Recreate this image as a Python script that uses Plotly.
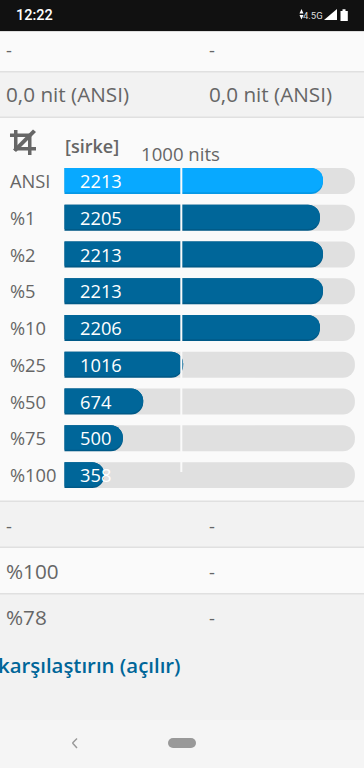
import plotly.graph_objects as go

W, H = 364, 768

categories = ["ANSI", "%1", "%2", "%5", "%10", "%25", "%50", "%75", "%100"]
values = [2213, 2205, 2213, 2213, 2206, 1016, 674, 500, 358]
# drawn lengths; they differ slightly from the printed numbers
bar_lengths = [2213, 2187, 2213, 2213, 2187, 1016, 674, 500, 340]
track_max = 2486
marker_value = 1000
marker_label = "1000 nits"
dark_blue = "#006699"
dark_edge = "#005a88"
light_blue = "#08A9FF"
light_edge = "#0598E6"
bar_colors = [light_blue] + [dark_blue] * 8
edge_colors = [light_edge] + [dark_edge] * 8
TEXT = "#666666"
FONT = "Open Sans"

PLOT_L, PLOT_R = 64.5, 355.5
PLOT_T, PLOT_B = 162.7, 493.5
LEAD = 300  # bars begin left of the axis so only their right end shows rounded

px = lambda x: x / W
py = lambda y: 1 - y / H


def rect(x0, y0, x1, y1, color):
    return dict(type="rect", xref="paper", yref="paper", x0=px(x0), x1=px(x1),
                y0=py(y0), y1=py(y1), fillcolor=color, line_width=0, layer="below")


def poly(points, color, layer="above"):
    d = "M" + " L".join(f"{px(a):.5f},{py(b):.5f}" for a, b in points) + " Z"
    return dict(type="path", xref="paper", yref="paper", path=d, fillcolor=color,
                line_width=0, layer=layer)


def label(x, y, text, size=18.3, color=TEXT, family=FONT, anchor="left", weight=400):
    return dict(xref="paper", yref="paper", x=px(x - 1), y=py(y), text=text, showarrow=False,
                xanchor=anchor, yanchor="middle", align=anchor, borderpad=0,
                font=dict(size=size, color=color, family=family, weight=weight))


shapes = [
    rect(0, 31, W, 71, "#FAFAFA"),
    rect(0, 71, W, 117, "#F2F2F2"),
    rect(0, 118, W, 501, "#FAFAFA"),
    rect(0, 501, W, 547, "#F2F2F2"),
    rect(0, 547, W, 594, "#FAFAFA"),
    rect(0, 594, W, 720, "#F2F2F2"),
    rect(0, 720, W, H, "#F5F5F5"),
    rect(0, 0, W, 31, "#111111"),
    rect(0, 31, W, 32, "#DDDDDD"),
    rect(0, 71, W, 72.5, "#E0E0E0"),
    rect(0, 116.5, W, 118, "#E0E0E0"),
    rect(0, 500.5, W, 502, "#E0E0E0"),
    rect(0, 546.5, W, 548, "#E0E0E0"),
    rect(0, 593, W, 594.5, "#E0E0E0"),
    # status bar icons
    poly([(324, 20), (337, 20), (337, 9)], "#FFFFFF"),
    poly([(340.5, 11), (342.5, 11), (342.5, 9.3), (345.5, 9.3), (345.5, 11), (347.8, 11),
          (347.8, 21), (340.5, 21)], "#FFFFFF"),
    poly([(299.5, 13.5), (301.5, 9), (303.5, 13.5)], "#FFFFFF"),
    poly([(299.5, 15), (303.5, 15), (301.5, 19.5)], "#FFFFFF"),
    # crop icon
    poly([(14, 130), (17.5, 130), (17.5, 147), (36, 147), (36, 150.5), (14, 150.5)], "#666666"),
    poly([(10, 133.5), (31.5, 133.5), (31.5, 155), (28, 155), (28, 137), (10, 137)], "#666666"),
    poly([(33, 129.5), (36, 132), (16, 152), (13, 149.5)], "#666666"),
    # navigation bar
    dict(type="path", xref="paper", yref="paper",
         path=f"M{px(72.5):.5f},{py(743):.5f} L{px(77):.5f},{py(738.5):.5f} "
              f"M{px(72.5):.5f},{py(743):.5f} L{px(77):.5f},{py(748):.5f}",
         line=dict(color="#999999", width=1.5), layer="above"),
    dict(type="rect", xref="paper", yref="paper", x0=px(173), x1=px(191), y0=py(738), y1=py(748),
         fillcolor="#999999", line=dict(color="#999999", width=0), layer="above"),
    dict(type="circle", xref="paper", yref="paper", x0=px(168), x1=px(178), y0=py(738), y1=py(748),
         fillcolor="#999999", line_width=0, layer="above"),
    dict(type="circle", xref="paper", yref="paper", x0=px(186), x1=px(196), y0=py(738), y1=py(748),
         fillcolor="#999999", line_width=0, layer="above"),
    # reference line at the marker value
    dict(type="line", xref="x", yref="paper", x0=marker_value, x1=marker_value,
         y0=py(167), y1=py(472), line=dict(color="#FAFAFA", width=2), layer="above"),
]

annotations = [
    label(16, 15.5, "12:22", 14.5, "#FFFFFF", "Roboto", weight=500),
    label(303, 15.5, "4.5G", 9.5, "#DDDDDD", "Roboto"),
    label(6, 49.5, "-"), label(209, 49.5, "-"),
    label(6, 94, "0,0 nit (ANSI)", 20.7), label(209, 94, "0,0 nit (ANSI)", 20.7),
    label(65, 146, "[sirke]", 18, weight=600),
    label(141, 153, marker_label, 18.6),
    label(6, 525.5, "-"), label(209, 525.5, "-"),
    label(6, 570.5, "%100", 20.7), label(209, 571.5, "-"),
    label(6, 617, "%78", 20.7), label(209, 617.5, "-"),
    label(-2, 664.5, "karşılaştırın (açılır)", 20.4, dark_blue, weight=600),
]
for c, v in zip(categories, values):
    annotations.append(dict(xref="paper", yref="y", x=px(9), y=c, text=c, showarrow=False,
                            xanchor="left", yanchor="middle", borderpad=0, yshift=0.5,
                            font=dict(size=18.3, color=TEXT, family=FONT)))
    annotations.append(dict(xref="paper", yref="y", x=px(79), y=c, text=str(v), showarrow=False,
                            xanchor="left", yanchor="middle", borderpad=0, yshift=0.5,
                            font=dict(size=18.3, color="#FFFFFF", family=FONT)))

fig = go.Figure()
fig.add_bar(y=categories, x=[track_max + LEAD] * len(categories), base=-LEAD, orientation="h",
            marker=dict(color="#E0E0E0", line_width=0), hoverinfo="skip", width=0.707)
fig.add_bar(y=categories, x=[v + LEAD for v in bar_lengths], base=-LEAD, orientation="h",
            marker=dict(color=edge_colors, line_width=0), hoverinfo="skip", width=0.707)
fig.add_bar(y=categories, x=[v + LEAD for v in bar_lengths], base=-LEAD, orientation="h",
            marker=dict(color=bar_colors, line_width=0), hoverinfo="skip",
            width=0.66, offset=-0.3535)

fig.update_layout(
    width=W, height=H, autosize=False, margin=dict(l=0, r=0, t=0, b=0),
    paper_bgcolor="#FAFAFA", plot_bgcolor="rgba(0,0,0,0)", barmode="overlay",
    barcornerradius=13, showlegend=False, shapes=shapes, annotations=annotations,
    font=dict(family=FONT),
    xaxis=dict(domain=[px(PLOT_L), px(PLOT_R)], range=[0, (PLOT_R - PLOT_L) / (323 - 64.5) * 2213],
               visible=False, fixedrange=True),
    yaxis=dict(domain=[py(PLOT_B), py(PLOT_T)], type="category", categoryorder="array",
               categoryarray=categories, autorange="reversed", visible=False, fixedrange=True),
)
fig.write_html("out.html", config=dict(displayModeBar=False),
               post_script="document.body.style.margin='0';document.documentElement.style.overflow='hidden';")
